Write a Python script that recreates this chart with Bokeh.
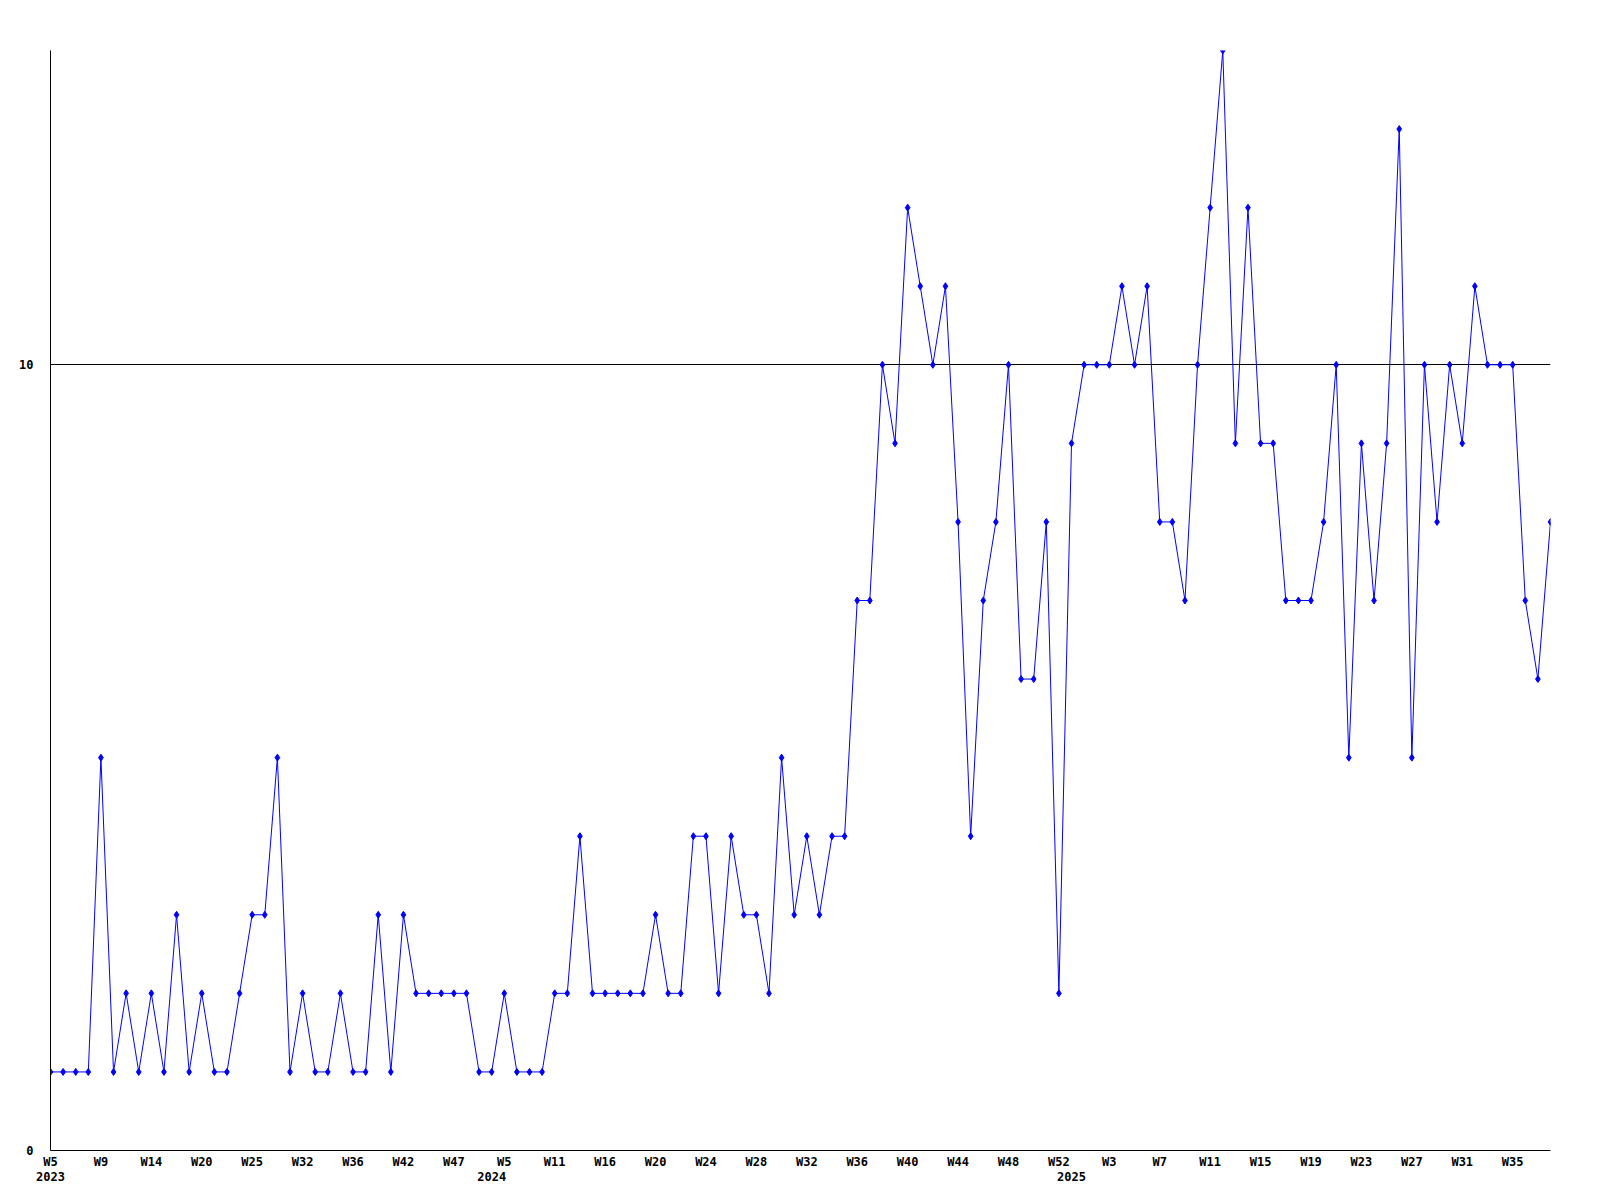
from bokeh.plotting import figure
from bokeh.models import Range1d, FixedTicker, LinearAxis, Grid
from bokeh.embed import file_html
from bokeh.resources import INLINE

# weekly counts, one per plotted week (2023 W5 ... 2025)
values = [1, 1, 1, 1, 5, 1, 2, 1, 2, 1, 3, 1, 2, 1, 1, 2, 3, 3, 5, 1,
          2, 1, 1, 2, 1, 1, 3, 1, 3, 2, 2, 2, 2, 2, 1, 1, 2, 1, 1, 1,
          2, 2, 4, 2, 2, 2, 2, 2, 3, 2, 2, 4, 4, 2, 4, 3, 3, 2, 5, 3,
          4, 3, 4, 4, 7, 7, 10, 9, 12, 11, 10, 11, 8, 4, 7, 8, 10, 6, 6, 8,
          2, 9, 10, 10, 10, 11, 10, 11, 8, 8, 7, 10, 12, 14, 9, 12, 9, 9, 7, 7,
          7, 8, 10, 5, 9, 7, 9, 13, 5, 10, 8, 10, 9, 11, 10, 10, 10, 7, 6, 8]

# a week label on every 4th point
tick_labels = ["W5", "W9", "W14", "W20", "W25", "W32", "W36", "W42", "W47",
               "W5", "W11", "W16", "W20", "W24", "W28", "W32", "W36", "W40",
               "W44", "W48", "W52", "W3", "W7", "W11", "W15", "W19", "W23",
               "W27", "W31", "W35"]
tick_step = 4

# year labels under the first point of each year
year_labels = ["2023", "2024", "2025"]
year_points = [0, 35, 81]

y_tick_values = [0, 10]
y_tick_labels = ["0", "10"]

FONT = "DejaVu Sans Mono"

x = list(range(len(values)))
tick_pos = [i * tick_step for i in range(len(tick_labels))]

p = figure(width=1592, height=1192, output_backend="svg", toolbar_location=None,
           x_range=Range1d(0, len(values) - 1), y_range=Range1d(0, 14),
           x_axis_location=None, y_axis_location=None,
           min_border_left=50, min_border_right=42, min_border_top=50,
           min_border_bottom=42)
p.outline_line_color = None
p.background_fill_color = "white"
p.border_fill_color = "white"


def style(ax):
    ax.axis_line_color = "black"
    ax.axis_line_width = 1
    ax.major_tick_line_color = None
    ax.minor_tick_line_color = None
    ax.major_tick_in = 0
    ax.major_tick_out = 0
    ax.major_label_text_font = FONT
    ax.major_label_text_font_style = "bold"
    ax.major_label_text_font_size = "12px"
    ax.major_label_text_color = "black"


xaxis = LinearAxis(ticker=FixedTicker(ticks=tick_pos),
                   major_label_overrides={t: s for t, s in zip(tick_pos, tick_labels)})
style(xaxis)
xaxis.major_label_standoff = 4
p.add_layout(xaxis, "below")

yearaxis = LinearAxis(ticker=FixedTicker(ticks=year_points),
                      major_label_overrides={t: s for t, s in zip(year_points, year_labels)})
style(yearaxis)
yearaxis.axis_line_color = None
yearaxis.major_label_standoff = 0
p.add_layout(yearaxis, "below")

yaxis = LinearAxis(ticker=FixedTicker(ticks=y_tick_values),
                   major_label_overrides={t: s for t, s in zip(y_tick_values, y_tick_labels)})
style(yaxis)
yaxis.major_label_standoff = 17
p.add_layout(yaxis, "left")

p.xgrid.visible = False
p.ygrid.visible = False
hgrid = Grid(dimension=1, ticker=FixedTicker(ticks=[10]),
             grid_line_color="black", grid_line_alpha=1.0, grid_line_width=1)
p.add_layout(hgrid)

p.line(x, values, line_color="#0000ff", line_width=1)
p.scatter(x, values, marker="diamond", size=7, color="#0000ff")

open("out.html", "w").write(file_html(p, INLINE))
